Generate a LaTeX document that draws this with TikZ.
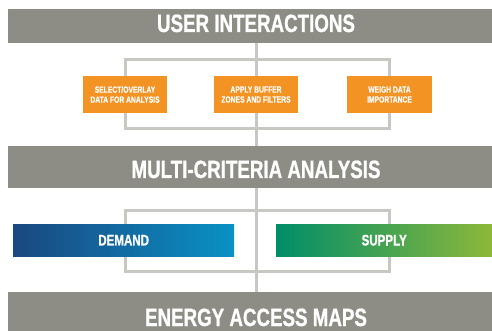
\documentclass[tikz,border=0pt]{standalone}
\usepackage{fontspec}
\newfontfamily\condsans{Liberation Sans}[UprightFont=*-Bold, FakeStretch=0.75, FakeBold=0.8]
\newfontfamily\condsmall{Liberation Sans}[UprightFont=*-Bold, FakeStretch=0.75, FakeBold=0.2]
\definecolor{bandgray}{HTML}{8E8D85}
\definecolor{linkgray}{HTML}{C8C7C1}
\definecolor{taskorange}{HTML}{F39324}
\definecolor{demandL}{HTML}{1B4780}
\definecolor{demandR}{HTML}{0991C5}
\definecolor{supplyL}{HTML}{008E68}
\definecolor{supplyR}{HTML}{8DB83A}
\begin{document}
\begin{tikzpicture}[x=1pt,y=-1pt,
  band/.style={fill=bandgray, draw=none, inner sep=0pt, anchor=north west,
    minimum width=484pt, minimum height=#1},
  bandtext/.style={text=white, anchor=base, inner sep=0pt,
    font=\condsans\fontsize{25}{25}\selectfont},
  task/.style={fill=taskorange, draw=none, text=white, align=center,
    inner sep=0pt, minimum width=84pt, minimum height=37pt,
    font=\condsmall\fontsize{9}{10}\selectfont},
  bar/.style={draw=none, inner sep=0pt, anchor=north west, minimum height=32pt,
    text=white, font=\condsans\fontsize{15.4}{16}\selectfont},
  link/.style={draw=linkgray, line width=3pt}]
\useasboundingbox (0,0) rectangle (492,331);

% grey title bands
\node[band=34pt] (ui) at (8,9) {};
\node[band=42pt] (mca) at (8,146) {};
\node[band=39pt] (eam) at (8,292) {};
\node[bandtext] (uiT) at (256,32) {USER INTERACTIONS};
\node[bandtext] (mcaT) at (256,178) {MULTI-CRITERIA ANALYSIS};
\node[bandtext] (eamT) at (256,326) {ENERGY ACCESS MAPS};

% helper rows for the two brackets
\coordinate (topA) at (0,60);
\coordinate (botA) at (0,129);
\coordinate (topB) at (0,210);
\coordinate (botB) at (0,271);

% centres of the three step boxes
\path (125,94.5) coordinate (selC) (256,94.5) coordinate (appC) (389.5,94.5) coordinate (weiC);

% connectors
\draw[link] (ui.south -| appC) -- (mca.north -| appC);
\draw[link] (selC |- topA) rectangle (weiC |- botA);
\draw[link] (mca.south -| appC) -- (eam.north -| appC);
\draw[link] (selC |- topB) rectangle (weiC |- botB);

% orange step boxes
\node[task] (sel) at (selC) {SELECT/OVERLAY\\DATA FOR ANALYSIS};
\node[task] (app) at (appC) {APPLY BUFFER\\ZONES AND FILTERS};
\node[task, minimum width=85pt] (wei) at (weiC) {WEIGH DATA\\IMPORTANCE};

% demand and supply bars
\node[bar, minimum width=221pt, left color=demandL, right color=demandR] (dem) at (13,224) {DEMAND};
\node[bar, minimum width=216pt, left color=supplyL, right color=supplyR] (sup) at (276,224) {SUPPLY};
\end{tikzpicture}
\end{document}
